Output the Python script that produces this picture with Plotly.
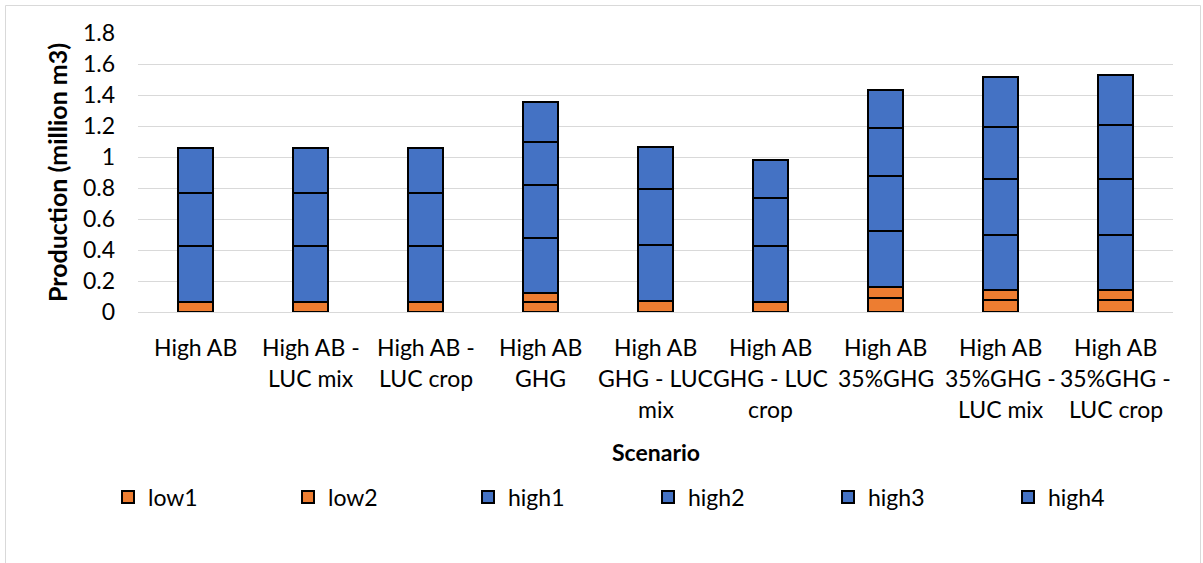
import plotly.graph_objects as go

# Scenario names and their wrapped display lines
scenarios = [
    "High AB", "High AB - LUC mix", "High AB - LUC crop", "High AB GHG",
    "High AB GHG - LUC mix", "High AB GHG - LUC crop", "High AB 35%GHG",
    "High AB 35%GHG - LUC mix", "High AB 35%GHG - LUC crop",
]
tick_lines = [
    ["High AB"], ["High AB -", "LUC mix"], ["High AB -", "LUC crop"],
    ["High AB", "GHG"], ["High AB", "GHG - LUC", "mix"], ["High AB", "GHG - LUC", "crop"],
    ["High AB", "35%GHG"], ["High AB", "35%GHG -", "LUC mix"], ["High AB", "35%GHG -", "LUC crop"],
]

# Production (million m3) per series
low1 = [0.065, 0.065, 0.065, 0.065, 0.069, 0.065, 0.089, 0.080, 0.080]
low2 = [0.0, 0.0, 0.0, 0.060, 0.0, 0.0, 0.073, 0.062, 0.062]
high1 = [0.360, 0.360, 0.363, 0.351, 0.362, 0.362, 0.358, 0.356, 0.356]
high2 = [0.340, 0.340, 0.341, 0.343, 0.362, 0.308, 0.359, 0.360, 0.360]
high3 = [0.291, 0.291, 0.287, 0.276, 0.272, 0.246, 0.311, 0.338, 0.349]
high4 = [0.0, 0.0, 0.0, 0.259, 0.0, 0.0, 0.245, 0.320, 0.319]

yticks = [0, 0.2, 0.4, 0.6, 0.8, 1, 1.2, 1.4, 1.6, 1.8]

ORANGE = "#ED7D31"
BLUE = "#4472C4"
FONT = "Lato, Carlito, 'Open Sans', sans-serif"
FS = 23

series = [
    ("low1", low1, ORANGE), ("low2", low2, ORANGE),
    ("high1", high1, BLUE), ("high2", high2, BLUE),
    ("high3", high3, BLUE), ("high4", high4, BLUE),
]

fig = go.Figure()
for name, vals, color in series:
    fig.add_trace(go.Bar(
        x=scenarios, y=vals, name=name,
        marker=dict(color=color, line=dict(color="#000000", width=2)),
    ))

# Plot-area geometry in pixels (used for paper-coordinate placement)
W, H = 1203, 563
L, R, T, B = 138, 30, 33, 251
pw, ph = W - L - R, H - T - B

def py(ypx):
    return (H - B - ypx) / ph

def px(xpx):
    return (xpx - L) / pw

# Multi-line category labels
annotations = []
line_y = [347, 378, 409]
for cat, lines in zip(scenarios, tick_lines):
    for i, txt in enumerate(lines):
        annotations.append(dict(
            x=cat, xref="x", y=py(line_y[i]), yref="paper",
            text=txt, showarrow=False, xanchor="center", yanchor="middle",
            font=dict(family=FONT, size=FS, color="#000000"),
        ))

annotations.append(dict(
    x=0.5, xref="paper", y=py(452), yref="paper", text="<b>Scenario</b>",
    showarrow=False, xanchor="center", yanchor="middle",
    font=dict(family=FONT, size=FS, color="#000000"),
))

fig.update_layout(
    width=W, height=H,
    margin=dict(l=L, r=R, t=T, b=B, autoexpand=False),
    barmode="stack", bargap=0.7,
    paper_bgcolor="white", plot_bgcolor="white",
    font=dict(family=FONT, size=FS, color="#000000"),
    showlegend=True,
    legend=dict(
        orientation="h", x=px(108), xanchor="left", y=py(497), yanchor="middle",
        traceorder="normal", entrywidth=135, entrywidthmode="pixels",
        font=dict(family=FONT, size=FS, color="#000000"),
        itemclick=False, itemdoubleclick=False,
    ),
    xaxis=dict(
        showticklabels=False, showgrid=False, zeroline=False, showline=False,
        ticks="", fixedrange=True,
    ),
    yaxis=dict(
        range=[0, 1.8], tickvals=yticks, ticktext=[f"{v:g}" for v in yticks],
        showgrid=True, gridcolor="#D9D9D9", gridwidth=1.3,
        zeroline=True, zerolinecolor="#D9D9D9", zerolinewidth=1.3,
        showline=False, ticks="", ticklabelstandoff=22,
        tickfont=dict(family=FONT, size=FS, color="#000000"),
        title=dict(text="<b>Production (million m3)</b>", standoff=8,
                   font=dict(family=FONT, size=25, color="#000000")),
        fixedrange=True,
    ),
    annotations=annotations,
    shapes=[dict(
        type="rect", xref="paper", yref="paper",
        x0=px(5.5), x1=px(1200.5), y0=py(5.5), y1=py(600),
        line=dict(color="#D9D9D9", width=1), fillcolor="rgba(0,0,0,0)", layer="below",
    )],
)

fig.write_html("out.html")
